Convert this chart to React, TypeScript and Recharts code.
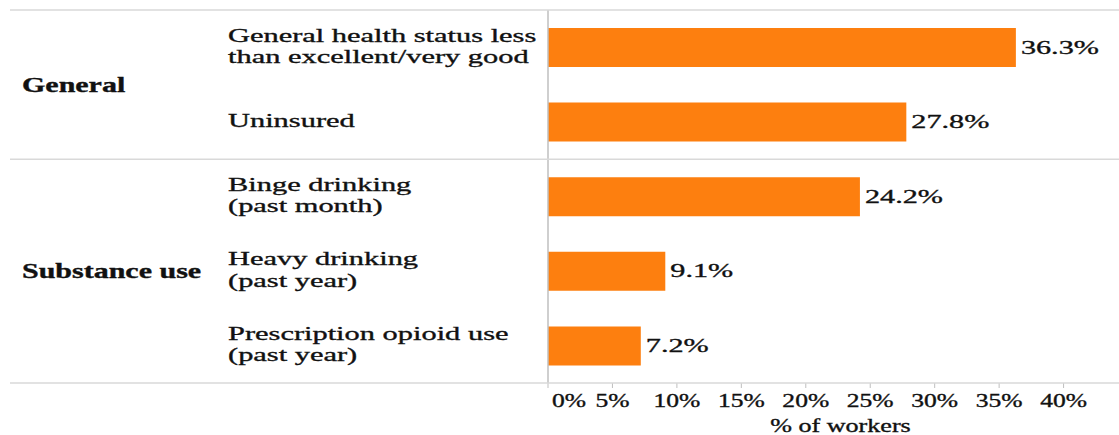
import { Bar, BarChart, LabelList, ReferenceLine, XAxis, YAxis } from "recharts";

const CATEGORIES = [
  "General health status less\nthan excellent/very good",
  "Uninsured",
  "Binge drinking\n(past month)",
  "Heavy drinking\n(past year)",
  "Prescription opioid use\n(past year)",
];
const VALUES = [36.3, 27.8, 24.2, 9.1, 7.2];
const GROUPS = ["General", "Substance use"];
const GROUP_SIZES = [2, 3];
const X_TICKS = [0, 5, 10, 15, 20, 25, 30, 35, 40];
const X_TITLE = "% of workers";

const FONT = "'Liberation Serif', 'Times New Roman', serif";
const INK = "#111";
const ORANGE = "#FD7F0F";
const RULE = "#d9d9d9";

const data = CATEGORIES.map((name, i) => ({ name, value: VALUES[i] }));

// index of the first category in each group
const groupStarts: number[] = [];
GROUP_SIZES.reduce((acc, s) => {
  groupStarts.push(acc);
  return acc + s;
}, 0);

function SText({ x, y, sx = 1.5, size = 20, anchor = "start", bold = false, children }: any) {
  return (
    <text
      transform={`translate(${x} ${y}) scale(${sx} 1)`}
      x={0}
      y={0}
      textAnchor={anchor}
      fontFamily={FONT}
      fontSize={size}
      fontWeight={bold ? 700 : 400}
      fill={INK}
      stroke={INK}
      strokeWidth={0.35}
    >
      {children}
    </text>
  );
}

function CategoryTick({ y, payload, index }: any) {
  const i = payload.index ?? index;
  const half = payload.offset ?? 0; // half band
  const lines = String(payload.value).split("\n");
  const lh = 21.5;
  const first = y + 5 - ((lines.length - 1) * lh) / 2;
  const gi = groupStarts.indexOf(i);
  const top = y - half;
  return (
    <g>
      {gi >= 0 && (
        <>
          <line x1={10} x2={1119} y1={top} y2={top} stroke={RULE} strokeWidth={1.5} />
          <SText x={22} y={top + GROUP_SIZES[gi] * half + 7} sx={1.5} size={20} bold>
            {GROUPS[gi]}
          </SText>
        </>
      )}
      {i === CATEGORIES.length - 1 && (
        <line x1={10} x2={1119} y1={y + half} y2={y + half} stroke={RULE} strokeWidth={1.5} />
      )}
      {lines.map((l, k) => (
        <SText key={k} x={228} y={first + k * lh} sx={1.56} size={19.5}>
          {l}
        </SText>
      ))}
    </g>
  );
}

function XTick({ x, y, payload }: any) {
  const first = payload.value === 0;
  return (
    <SText x={first ? x + 4 : x} y={y + 17} sx={1.42} size={18} anchor={first ? "start" : "middle"}>
      {`${payload.value}%`}
    </SText>
  );
}

function ValueLabel({ x, y, width, height, value }: any) {
  return (
    <SText x={x + width + 5} y={y + height / 2 + 6} sx={1.55} size={19.5}>
      {`${Number(value).toFixed(1)}%`}
    </SText>
  );
}

function XTitle({ viewBox }: any) {
  const cx = viewBox.x + viewBox.width / 2 + 7;
  return (
    <SText x={cx} y={viewBox.y + 49} sx={1.45} size={18} anchor="middle">
      {X_TITLE}
    </SText>
  );
}

export default function App() {
  return (
    <div style={{ position: "absolute", left: 0, top: 0, background: "#fff" }}>
      <BarChart
        width={1119}
        height={435}
        data={data}
        layout="vertical"
        margin={{ top: 10, right: 0, bottom: 0, left: 0 }}
      >
        <XAxis
          type="number"
          domain={[0, 44.3]}
          ticks={X_TICKS}
          interval={0}
          height={52}
          axisLine={false}
          tickLine={{ stroke: "#bfbfbf" }}
          tickSize={5}
          tick={<XTick />}
          label={{ content: <XTitle /> }}
        />
        <YAxis
          type="category"
          dataKey="name"
          width={548}
          interval={0}
          axisLine={false}
          tickLine={false}
          tick={<CategoryTick />}
        />
        <ReferenceLine x={0} stroke="#bfbfbf" strokeWidth={1.5} />
        <Bar dataKey="value" fill={ORANGE} barSize={39} isAnimationActive={false}>
          <LabelList dataKey="value" content={<ValueLabel />} />
        </Bar>
      </BarChart>
    </div>
  );
}
